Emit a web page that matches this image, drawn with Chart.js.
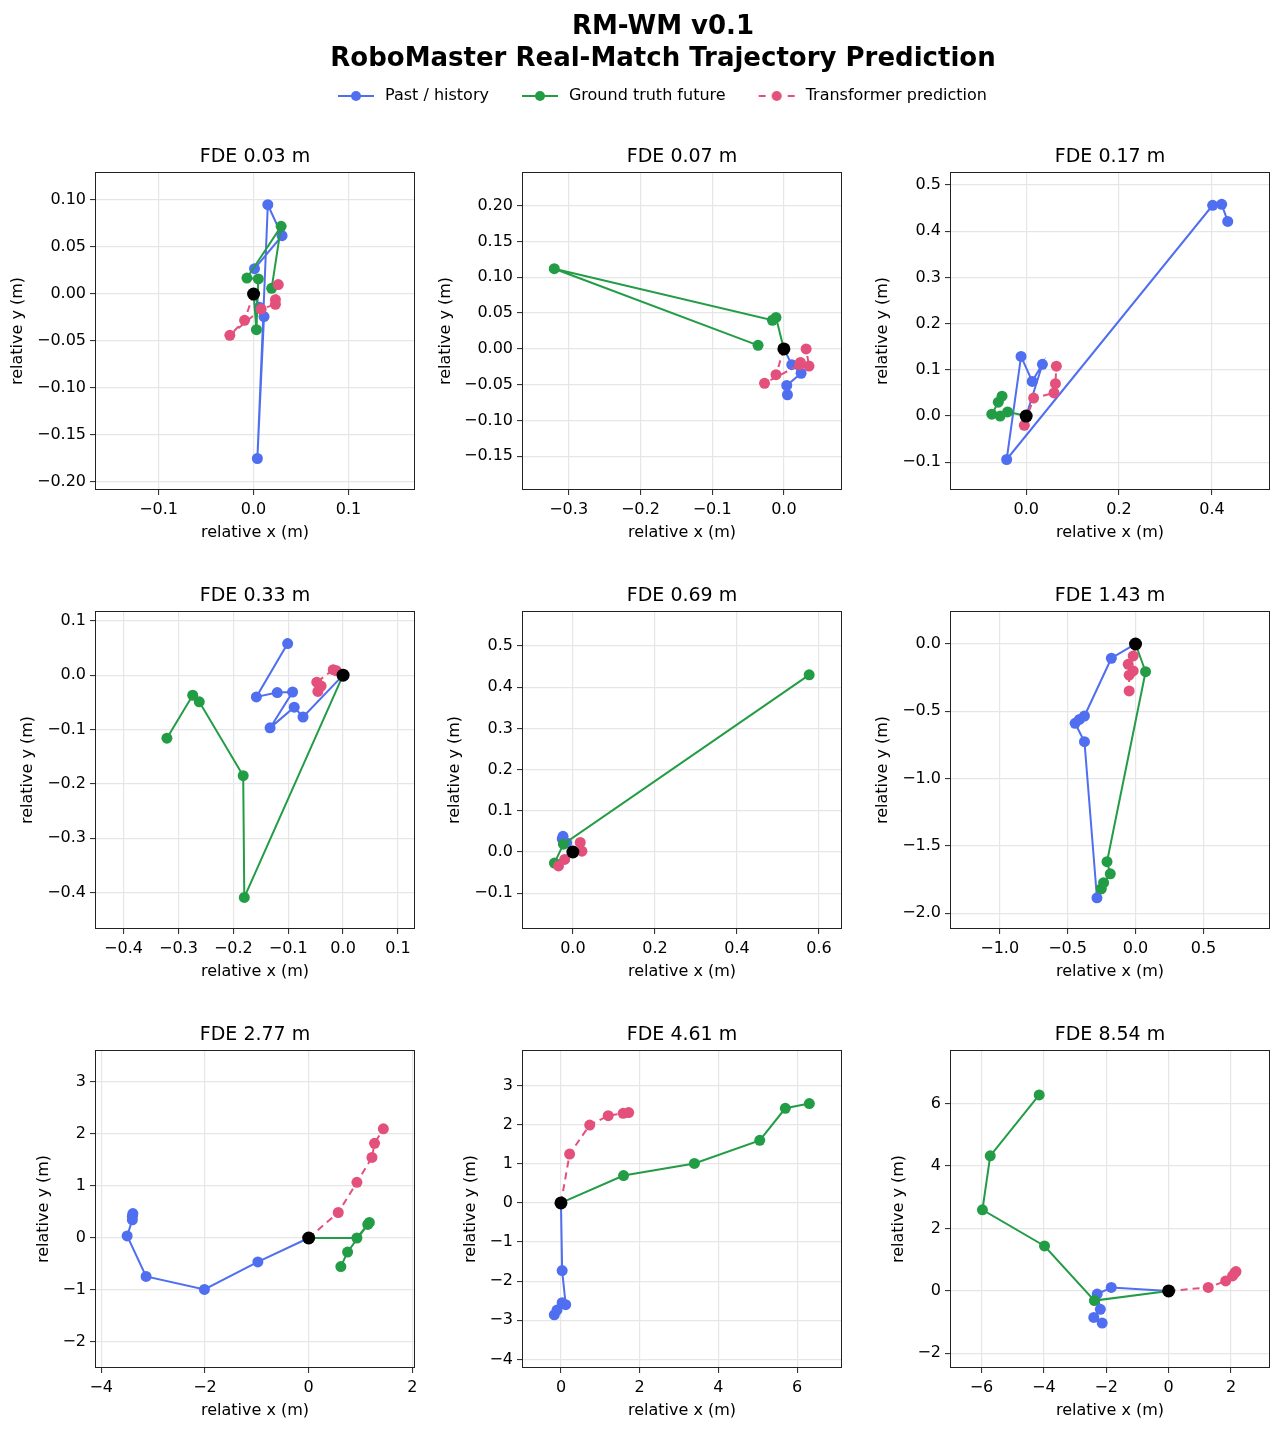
<!DOCTYPE html>
<html>
<head>
<meta charset="utf-8">
<title>RM-WM v0.1 - RoboMaster Real-Match Trajectory Prediction</title>
<script src="https://cdn.jsdelivr.net/npm/chart.js@4"></script>
<style>
    body { margin: 0; background: #fff; }
    #fig { position: relative; width: 1280px; height: 1431px; }
    #fig canvas { position: absolute; }
</style>
</head>
<body>
<div id="fig"></div>
<script>
    // ---- data ----
    const figTitle = ['RM-WM v0.1', 'RoboMaster Real-Match Trajectory Prediction'];
    const seriesNames = ['Past / history', 'Ground truth future', 'Transformer prediction'];
    const fdeTitles = ['FDE 0.03 m', 'FDE 0.07 m', 'FDE 0.17 m',
                       'FDE 0.33 m', 'FDE 0.69 m', 'FDE 1.43 m',
                       'FDE 2.77 m', 'FDE 4.61 m', 'FDE 8.54 m'];
    const xLabel = 'relative x (m)';
    const yLabel = 'relative y (m)';

    // current position (black dot), every trajectory is relative to it
    const currentPos = [0, 0];

    // past points (the line ends at the current position)
    const historyPts = [
        [[0.001, 0.027], [0.030, 0.062], [0.015, 0.095], [0.004, -0.175], [0.011, -0.024], [0.006, -0.014]],
        [[0.005, -0.064], [0.004, -0.051], [0.024, -0.034], [0.011, -0.022]],
        [[0.434, 0.421], [0.421, 0.458], [0.4015, 0.456], [-0.042, -0.094], [-0.011, 0.129], [0.013, 0.075], [0.035, 0.112]],
        [[-0.101, 0.058], [-0.158, -0.040], [-0.120, -0.032], [-0.092, -0.031], [-0.133, -0.097], [-0.089, -0.059], [-0.073, -0.077]],
        [[-0.026, 0.032], [-0.024, 0.038], [-0.015, 0.022]],
        [[-0.284, -1.885], [-0.376, -0.726], [-0.445, -0.589], [-0.413, -0.560], [-0.376, -0.535], [-0.178, -0.106]],
        [[-3.39, 0.47], [-3.40, 0.42], [-3.40, 0.35], [-3.50, 0.04], [-3.135, -0.74], [-2.01, -0.99], [-0.98, -0.46]],
        [[-0.17, -2.86], [-0.10, -2.74], [0.03, -2.55], [0.12, -2.60], [0.03, -1.73]],
        [[-2.13, -1.03], [-2.40, -0.85], [-2.19, -0.59], [-2.29, -0.10], [-1.84, 0.11]]
    ];

    // ground truth future (the line starts at the current position)
    const futurePts = [
        [[0.003, -0.038], [0.005, 0.016], [-0.007, 0.017], [0.029, 0.072], [0.019, 0.006]],
        [[-0.011, 0.044], [-0.016, 0.040], [-0.320, 0.112], [-0.036, 0.005]],
        [[-0.040, 0.009], [-0.056, 0.000], [-0.074, 0.004], [-0.060, 0.030], [-0.052, 0.043]],
        [[-0.180, -0.409], [-0.182, -0.185], [-0.262, -0.049], [-0.274, -0.037], [-0.321, -0.116]],
        [[-0.045, -0.027], [-0.023, 0.019], [0.576, 0.430]],
        [[0.074, -0.206], [-0.210, -1.617], [-0.186, -1.707], [-0.235, -1.773], [-0.252, -1.818]],
        [[0.93, 0.00], [1.14, 0.26], [1.17, 0.30], [0.75, -0.27], [0.62, -0.55]],
        [[1.59, 0.70], [3.39, 1.01], [5.05, 1.60], [5.70, 2.42], [6.31, 2.54]],
        [[-2.38, -0.31], [-3.98, 1.44], [-5.97, 2.60], [-5.72, 4.33], [-4.15, 6.28]]
    ];

    // transformer prediction (dashed, starts at the current position)
    const predPts = [
        [[-0.0095, -0.028], [-0.025, -0.044], [0.008, -0.016], [0.023, -0.011], [0.023, -0.006], [0.026, 0.010]],
        [[-0.011, -0.036], [-0.027, -0.048], [0.022, -0.022], [0.023, -0.019], [0.035, -0.024], [0.031, 0.000]],
        [[-0.004, -0.020], [0.016, 0.039], [0.060, 0.050], [0.063, 0.070], [0.065, 0.108]],
        [[-0.012, 0.008], [-0.018, 0.010], [-0.048, -0.013], [-0.046, -0.030], [-0.040, -0.020]],
        [[-0.020, -0.018], [-0.035, -0.034], [0.018, 0.023], [0.022, 0.002]],
        [[-0.017, -0.089], [-0.054, -0.151], [-0.017, -0.200], [-0.047, -0.232], [-0.047, -0.349]],
        [[0.57, 0.49], [0.93, 1.07], [1.22, 1.55], [1.27, 1.82], [1.44, 2.10]],
        [[0.22, 1.25], [0.73, 1.99], [1.20, 2.23], [1.58, 2.29], [1.72, 2.31]],
        [[1.27, 0.11], [1.83, 0.32], [2.05, 0.48], [2.12, 0.58], [2.16, 0.62]]
    ];

    // axis ranges, tick steps and tick decimals per panel
    const xRanges = [[-0.167, 0.170], [-0.365, 0.081], [-0.164, 0.525],
                     [-0.452, 0.131], [-0.124, 0.656], [-1.366, 0.99],
                     [-4.12, 2.05], [-0.99, 7.14], [-7.01, 3.25]];
    const yRanges = [[-0.2085, 0.1298], [-0.197, 0.247], [-0.160, 0.528],
                     [-0.467, 0.118], [-0.187, 0.585], [-2.117, 0.245],
                     [-2.5, 3.615], [-4.22, 3.91], [-2.47, 7.72]];
    const xSteps = [0.1, 0.1, 0.2, 0.1, 0.2, 0.5, 2, 2, 2];
    const ySteps = [0.05, 0.05, 0.1, 0.1, 0.1, 0.5, 1, 1, 2];
    const xDecimals = [1, 1, 1, 1, 1, 1, 0, 0, 0];
    const yDecimals = [2, 2, 1, 1, 1, 1, 0, 0, 0];

    // ---- style / layout ----
    const BLUE = '#4f6ef0';
    const GREEN = '#239c46';
    const PINK = '#e4507c';
    const GRID = '#e6e6e6';
    const AXIS = '#222';
    const plotLefts = [95, 522, 950];
    const plotTops = [172, 611, 1050];
    const yTitlePad = [8.5, 9.5, 18.5, 18.5, 18.5, 18.5, 34.5, 34.5, 34.5];

    Chart.defaults.font.family = '"DejaVu Sans", sans-serif';
    Chart.defaults.font.size = 16;
    Chart.defaults.color = '#000';

    const fig = document.getElementById('fig');

    function addCanvas(left, top, w, h) {
        const c = document.createElement('canvas');
        c.width = w;
        c.height = h;
        c.style.left = left + 'px';
        c.style.top = top + 'px';
        c.style.width = w + 'px';
        c.style.height = h + 'px';
        fig.appendChild(c);
        return c;
    }

    // matplotlib-like tick text with a real minus sign
    function fmt(v, d) {
        if (Math.abs(v) < 1e-9) v = 0;
        return v.toFixed(d).replace('-', '\u2212');
    }

    const toPts = arr => arr.map(p => ({ x: p[0], y: p[1] }));

    // full box around each axes
    const framePlugin = {
        id: 'frame',
        afterDatasetsDraw(chart) {
            const a = chart.chartArea;
            const ctx = chart.ctx;
            ctx.save();
            ctx.strokeStyle = AXIS;
            ctx.lineWidth = 1;
            ctx.strokeRect(Math.round(a.left) + 0.5, Math.round(a.top) + 0.5,
                Math.round(a.right - a.left) - 1, Math.round(a.bottom - a.top) - 1);
            ctx.restore();
        }
    };

    function axisOpts(range, step, dec, title) {
        return {
            type: 'linear',
            min: range[0],
            max: range[1],
            border: { display: false },
            grid: { color: GRID, lineWidth: 1.2, tickColor: AXIS, tickWidth: 1, tickLength: 5 },
            ticks: {
                stepSize: step,
                includeBounds: false,
                autoSkip: false,
                maxRotation: 0,
                color: '#000',
                callback: v => fmt(v, dec)
            },
            title: { display: true, text: title, color: '#000' }
        };
    }

    function makePanel(i) {
        const col = i % 3, row = Math.floor(i / 3);
        const cv = addCanvas(plotLefts[col] - 95, plotTops[row] - 44, 425, 418);
        const origin = { x: currentPos[0], y: currentPos[1] };

        const xs = axisOpts(xRanges[i], xSteps[i], xDecimals[i], xLabel);
        xs.ticks.padding = 5;
        xs.title.padding = { top: 0, bottom: 3.4 };
        xs.afterFit = s => { s.height = 56; };

        const ys = axisOpts(yRanges[i], ySteps[i], yDecimals[i], yLabel);
        ys.ticks.padding = 4;
        ys.title.padding = { top: yTitlePad[i], bottom: 0 };
        ys.afterFit = s => { s.width = 95; };

        const lineSet = (label, pts, color, order) => ({
            label: label,
            data: pts,
            showLine: true,
            borderColor: color,
            backgroundColor: color,
            borderWidth: 2,
            pointRadius: 5.5,
            pointBorderWidth: 0,
            order: order
        });

        const pred = lineSet(seriesNames[2], [origin, ...toPts(predPts[i])], PINK, 1);
        pred.borderDash = [7, 5];

        new Chart(cv, {
            type: 'scatter',
            data: {
                datasets: [
                    lineSet(seriesNames[0], [...toPts(historyPts[i]), origin], BLUE, 3),
                    lineSet(seriesNames[1], [origin, ...toPts(futurePts[i])], GREEN, 2),
                    pred,
                    {
                        label: 'current',
                        data: [origin],
                        backgroundColor: '#000',
                        borderColor: '#000',
                        pointRadius: 6.5,
                        pointBorderWidth: 0,
                        order: 0
                    }
                ]
            },
            options: {
                responsive: false,
                animation: false,
                layout: { padding: { left: 0, right: 10, top: 0, bottom: 0 } },
                plugins: {
                    legend: { display: false },
                    tooltip: { enabled: false },
                    title: {
                        display: true,
                        text: fdeTitles[i],
                        fullSize: false,
                        color: '#000',
                        font: { size: 19, weight: 'normal' },
                        padding: { top: 17.5, bottom: 3.7 }
                    }
                },
                scales: { x: xs, y: ys }
            },
            plugins: [framePlugin]
        });
    }

    // legend handle: short line with a dot in the middle
    function legendIcon(color, dashed) {
        const c = document.createElement('canvas');
        c.width = 62;
        c.height = 14;
        const g = c.getContext('2d');
        g.strokeStyle = color;
        g.lineWidth = 2;
        if (dashed) g.setLineDash([7, 6, 10, 6, 7, 6]);
        g.beginPath();
        g.moveTo(23, 7);
        g.lineTo(59, 7);
        g.stroke();
        g.fillStyle = color;
        g.beginPath();
        g.arc(41, 7, 5, 0, Math.PI * 2);
        g.fill();
        return c;
    }

    function makeHeader() {
        // figure title
        const t = addCanvas(0, 0, 1280, 76);
        new Chart(t, {
            type: 'scatter',
            data: { datasets: [] },
            options: {
                responsive: false,
                animation: false,
                layout: { padding: { left: 46 } },
                scales: { x: { display: false }, y: { display: false } },
                plugins: {
                    legend: { display: false },
                    tooltip: { enabled: false },
                    title: {
                        display: true,
                        text: figTitle,
                        color: '#000',
                        font: { size: 26, weight: 'bold', lineHeight: 1.23 },
                        padding: { top: 11, bottom: 0 }
                    }
                }
            }
        });

        // figure legend
        const colors = [BLUE, GREEN, PINK];
        const icons = [legendIcon(BLUE, false), legendIcon(GREEN, false), legendIcon(PINK, true)];
        const l = addCanvas(0, 78, 1280, 90);
        new Chart(l, {
            type: 'scatter',
            data: {
                datasets: seriesNames.map((name, k) => ({
                    label: name, data: [], borderColor: colors[k], backgroundColor: colors[k]
                }))
            },
            options: {
                responsive: false,
                animation: false,
                layout: { padding: { left: 22 } },
                scales: { x: { display: false }, y: { display: false } },
                plugins: {
                    tooltip: { enabled: false },
                    legend: {
                        display: true,
                        position: 'top',
                        labels: {
                            usePointStyle: true,
                            pointStyleWidth: 62,
                            padding: 10,
                            color: '#000',
                            font: { size: 16 },
                            generateLabels: () => seriesNames.map((name, k) => ({
                                text: name,
                                pointStyle: icons[k],
                                fillStyle: colors[k],
                                strokeStyle: colors[k],
                                lineWidth: 0,
                                hidden: false,
                                datasetIndex: k
                            }))
                        }
                    }
                }
            }
        });
    }

    makeHeader();
    for (let i = 0; i < 9; i++) makePanel(i);
</script>
</body>
</html>
